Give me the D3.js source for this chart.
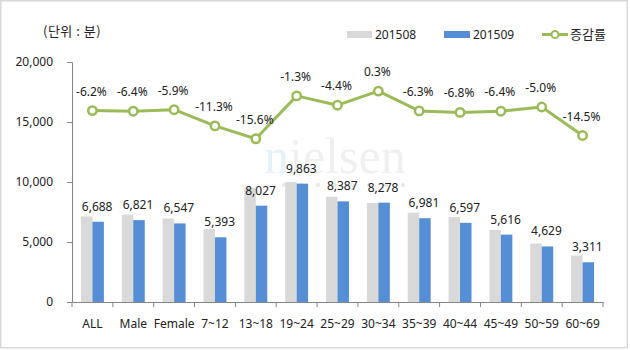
<!DOCTYPE html>
<html>
<head>
<meta charset="utf-8">
<script src="https://cdn.jsdelivr.net/npm/d3@7"></script>
<style>
  html, body { margin: 0; padding: 0; background: #fff; }
  svg { display: block; }
  text { font-family: "Noto Sans", "Noto Sans CJK KR", sans-serif; fill: #222; }
</style>
</head>
<body>
<svg id="chart" width="630" height="350"></svg>
<script>
// ---- data ----
const categories = ["ALL", "Male", "Female", "7~12", "13~18", "19~24", "25~29", "30~34", "35~39", "40~44", "45~49", "50~59", "60~69"];
const series201508 = [7130, 7287, 6958, 6080, 9511, 9993, 8773, 8253, 7450, 7078, 6000, 4873, 3873];
const series201509 = [6688, 6821, 6547, 5393, 8027, 9863, 8387, 8278, 6981, 6597, 5616, 4629, 3311];
const changeRate = [-6.2, -6.4, -5.9, -11.3, -15.6, -1.3, -4.4, 0.3, -6.3, -6.8, -6.4, -5.0, -14.5];
const yTicks = [0, 5000, 10000, 15000, 20000];
const seriesNames = ["201508", "201509", "증감률"];
const unitLabel = "(단위 : 분)";

// ---- setup ----
const svg = d3.select("#chart");
const plot = { left: 72, right: 603, top: 62, bottom: 302 };
const colors = { g: "#D9D9D9", b: "#558ED5", line: "#9BBB59", axis: "#868686" };
const fmtPct = d => d.toFixed(1) + "%";

// border
svg.append("rect").attr("x", 0.75).attr("y", 0.75).attr("width", 626.5).attr("height", 347)
  .attr("fill", "#fff").attr("stroke", "#d9d9d9").attr("stroke-width", 1.5);

const x = d3.scaleBand().domain(categories).range([plot.left, plot.right]);
const x1 = d3.scaleBand().domain(["a", "b"]).range([0, x.bandwidth()]).paddingOuter(0.78).paddingInner(0);
const y = d3.scaleLinear().domain([0, 20000]).range([plot.bottom, plot.top]);
const y2 = d3.scaleLinear().domain([-70, 10]).range([plot.bottom, plot.top]);

// watermark
const wm = svg.append("g").attr("pointer-events", "none");
const wmText = wm.append("text").attr("x", 264).attr("y", 173)
  .style("font-family", "'Liberation Serif', 'DejaVu Serif', serif").style("font-size", "50px");
wmText.append("tspan").text("n").style("fill", "#e5f2f9");
wmText.append("tspan").text("ielsen").style("fill", "#f0f0f0");
wm.selectAll("circle").data(d3.range(8)).join("circle")
  .attr("cx", (d, i) => 284 + i * 17).attr("cy", 185).attr("r", 2).attr("fill", "#e8e8e8");

// y axis
const yAxis = svg.append("g").attr("transform", `translate(${plot.left},0)`)
  .call(d3.axisLeft(y).tickValues(yTicks).tickFormat(d3.format(",")).tickSize(5).tickPadding(14));
yAxis.select(".domain").attr("stroke", colors.axis);
yAxis.selectAll(".tick line").attr("stroke", colors.axis);
yAxis.selectAll(".tick text").style("font-size", "12px").attr("fill", "#222")
  .style("font-family", "'Noto Sans', sans-serif");

// bars
const groups = svg.append("g").selectAll("g").data(categories).join("g")
  .attr("transform", d => `translate(${x(d)},0)`);
groups.append("rect")
  .attr("x", x1("a")).attr("width", x1.bandwidth())
  .attr("y", (d, i) => y(series201508[i])).attr("height", (d, i) => y(0) - y(series201508[i]))
  .attr("fill", colors.g);
groups.append("rect")
  .attr("x", x1("b")).attr("width", x1.bandwidth())
  .attr("y", (d, i) => y(series201509[i])).attr("height", (d, i) => y(0) - y(series201509[i]))
  .attr("fill", colors.b);
groups.append("text")
  .attr("x", x1("b") + x1.bandwidth() / 2 - 1)
  .attr("y", (d, i) => y(series201509[i]) - 11)
  .attr("text-anchor", "middle").style("font-size", "12px")
  .text((d, i) => d3.format(",")(series201509[i]));

// x axis
const xAxis = svg.append("g").attr("transform", `translate(0,${plot.bottom})`)
  .call(d3.axisBottom(x).tickSize(0).tickPadding(17));
xAxis.select(".domain").attr("stroke", colors.axis);
xAxis.selectAll(".tick text").style("font-size", "12px").attr("fill", "#222");
// boundary ticks
svg.append("g").selectAll("line").data(d3.range(categories.length + 1)).join("line")
  .attr("x1", i => plot.left + i * x.step()).attr("x2", i => plot.left + i * x.step())
  .attr("y1", plot.bottom).attr("y2", plot.bottom + 5)
  .attr("stroke", colors.axis);

// line
const cx = (d, i) => x(categories[i]) + x.bandwidth() / 2;
const line = d3.line().x((d, i) => cx(d, i)).y(d => y2(d));
svg.append("path").datum(changeRate).attr("d", line)
  .attr("fill", "none").attr("stroke", colors.line).attr("stroke-width", 3).attr("stroke-linejoin", "round");
svg.append("g").selectAll("circle").data(changeRate).join("circle")
  .attr("cx", cx).attr("cy", d => y2(d)).attr("r", 4.2)
  .attr("fill", "#fff").attr("stroke", colors.line).attr("stroke-width", 2.5);
svg.append("g").selectAll("text").data(changeRate).join("text")
  .attr("x", (d, i) => cx(d, i) - 1).attr("y", d => y2(d) - 15)
  .attr("text-anchor", "middle").style("font-size", "12px")
  .text(fmtPct);

// unit label
svg.append("text").attr("x", 43).attr("y", 36).style("font-size", "13px")
  .style("letter-spacing", "0.5px")
  .style("font-family", "'Noto Sans CJK KR', sans-serif").text(unitLabel);

// legend
const lg = svg.append("g");
lg.append("rect").attr("x", 347).attr("y", 31).attr("width", 25).attr("height", 7).attr("fill", colors.g);
lg.append("text").attr("x", 375).attr("y", 39).style("font-size", "12px").text(seriesNames[0]);
lg.append("rect").attr("x", 444).attr("y", 31).attr("width", 26).attr("height", 7).attr("fill", colors.b);
lg.append("text").attr("x", 473).attr("y", 39).style("font-size", "12px").text(seriesNames[1]);
lg.append("line").attr("x1", 542).attr("x2", 568).attr("y1", 34.5).attr("y2", 34.5)
  .attr("stroke", colors.line).attr("stroke-width", 3);
lg.append("circle").attr("cx", 555).attr("cy", 34.5).attr("r", 3.5)
  .attr("fill", "#fff").attr("stroke", colors.line).attr("stroke-width", 2);
lg.append("text").attr("x", 570).attr("y", 39).style("font-size", "13px")
  .style("font-family", "'Noto Sans CJK KR', sans-serif").text(seriesNames[2]);
</script>
</body>
</html>
